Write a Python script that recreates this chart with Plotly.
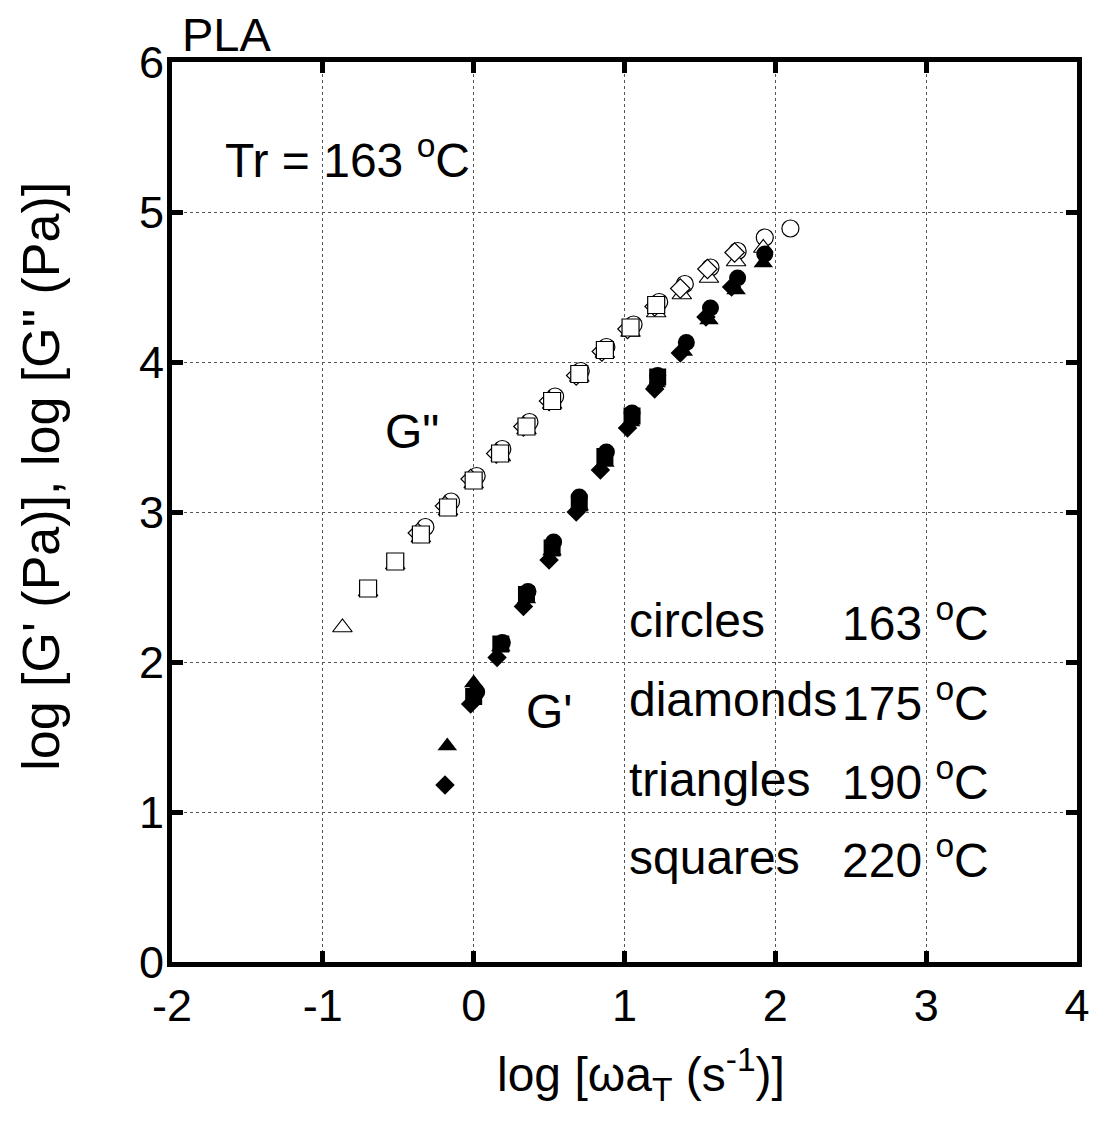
import plotly.graph_objects as go

# ---- data: G'' (open symbols) ----
gpp_circ_x = [-0.32, -0.15, 0.02, 0.19, 0.37, 0.54, 0.71, 0.88, 1.06, 1.23, 1.40, 1.57, 1.75, 1.93, 2.10]
gpp_circ_y = [2.90, 3.07, 3.24, 3.42, 3.60, 3.77, 3.94, 4.10, 4.25, 4.40, 4.52, 4.63, 4.74, 4.83, 4.89]

gpp_diam_x = [-0.37, -0.19, -0.02, 0.15, 0.33, 0.50, 0.68, 0.85, 1.02, 1.20, 1.37, 1.55, 1.73]
gpp_diam_y = [2.86, 3.04, 3.22, 3.39, 3.57, 3.74, 3.91, 4.07, 4.22, 4.37, 4.49, 4.62, 4.73]

gpp_tri_x = [-0.87, -0.70, -0.52, -0.35, -0.17, 0.00, 0.18, 0.35, 0.52, 0.70, 0.87, 1.04, 1.21, 1.38, 1.56, 1.74, 1.92]
gpp_tri_y = [2.23, 2.47, 2.65, 2.83, 3.01, 3.19, 3.37, 3.55, 3.72, 3.90, 4.06, 4.20, 4.33, 4.45, 4.56, 4.67, 4.76]

gpp_sq_x = [-0.70, -0.52, -0.35, -0.17, 0.00, 0.175, 0.35, 0.52, 0.70, 0.87, 1.04, 1.21]
gpp_sq_y = [2.49, 2.67, 2.85, 3.03, 3.21, 3.39, 3.57, 3.74, 3.92, 4.08, 4.23, 4.38]

# ---- data: G' (filled symbols) ----
gp_circ_x = [0.02, 0.19, 0.36, 0.53, 0.70, 0.88, 1.05, 1.22, 1.41, 1.57, 1.75, 1.93]
gp_circ_y = [1.80, 2.13, 2.47, 2.80, 3.10, 3.40, 3.66, 3.91, 4.13, 4.36, 4.56, 4.72]

gp_diam_x = [-0.19, -0.02, 0.155, 0.33, 0.50, 0.68, 0.84, 1.02, 1.20, 1.37, 1.54, 1.71]
gp_diam_y = [1.18, 1.72, 2.03, 2.37, 2.68, 3.00, 3.28, 3.56, 3.82, 4.06, 4.30, 4.50]

gp_tri_x = [-0.175, 0.00, 0.18, 0.35, 0.52, 0.70, 0.87, 1.04, 1.21, 1.39, 1.56, 1.74, 1.92]
gp_tri_y = [1.44, 1.86, 2.10, 2.42, 2.74, 3.04, 3.33, 3.60, 3.86, 4.07, 4.28, 4.48, 4.66]

gp_sq_x = [0.00, 0.18, 0.35, 0.52, 0.70, 0.87, 1.05, 1.22]
gp_sq_y = [1.77, 2.12, 2.45, 2.76, 3.06, 3.37, 3.64, 3.90]

x_ticks = [-2, -1, 0, 1, 2, 3, 4]
y_ticks = [0, 1, 2, 3, 4, 5, 6]

legend_names = ["circles", "diamonds", "triangles", "squares"]
legend_temps = ["163", "175", "190", "220"]

FONT = "Liberation Sans, Arial, sans-serif"

fig = go.Figure()

def add(x, y, symbol, size, filled):
    fig.add_trace(go.Scatter(
        x=x, y=y, mode="markers", showlegend=False,
        marker=dict(symbol=symbol, size=size,
                    color="black" if filled else "white",
                    line=dict(color="black", width=0 if filled else 1.2)),
    ))

# open (G'') — circles bottom, then triangles, diamonds, squares on top
add(gpp_circ_x, gpp_circ_y, "circle", 17, False)
add(gpp_tri_x, gpp_tri_y, "triangle-up", 17, False)
add(gpp_diam_x, gpp_diam_y, "diamond", 15, False)
add(gpp_sq_x, gpp_sq_y, "square", 17, False)
# filled (G')
add(gp_circ_x, gp_circ_y, "circle", 17, True)
add(gp_tri_x, gp_tri_y, "triangle-up", 17, True)
add(gp_diam_x, gp_diam_y, "diamond", 15, True)
add(gp_sq_x, gp_sq_y, "square", 17, True)

axis_common = dict(
    showline=True, linecolor="black", linewidth=5, mirror="all",
    ticks="inside", ticklen=11, tickwidth=5, tickcolor="black",
    showgrid=True, gridcolor="#555555", gridwidth=1, griddash="3px,3px",
    zeroline=False,
    tickfont=dict(family=FONT, size=45, color="black"),
)

fig.update_xaxes(range=[-2, 4], tickvals=x_ticks, ticktext=[str(v) for v in x_ticks], **axis_common)
fig.update_yaxes(range=[0, 6], tickvals=y_ticks, ticktext=[str(v) for v in y_ticks],
                 ticklabelstandoff=-6, **axis_common)

ann = []
def txt(x, y, text, xanchor="center", xref="x", yref="y", size=48, textangle=0):
    ann.append(dict(x=x, y=y, xref=xref, yref=yref, text=text, showarrow=False,
                    xanchor=xanchor, yanchor="middle", textangle=textangle,
                    font=dict(family=FONT, size=size, color="black")))

txt(0.009, 1.03, "PLA", xanchor="left", xref="paper", yref="paper", size=47)
txt(-1.66, 5.37, "Tr = 163 <sup>o</sup>C", xanchor="left")
txt(-0.41, 3.54, "G\"")
txt(0.50, 1.67, "G'")
leg_y = [2.28, 1.75, 1.22, 0.70]
for name, temp, yy in zip(legend_names, legend_temps, leg_y):
    txt(1.015, yy, name, xanchor="left")
    txt(3.43, yy, temp + " <sup>o</sup>C", xanchor="right")

# axis titles
txt(0.518, -0.125, "log [ωa<sub>T</sub> (s<sup>-1</sup>)]", xref="paper", yref="paper")
txt(-0.145, 0.54, "log [G' (Pa)], log [G\" (Pa)]", xref="paper", yref="paper",
    textangle=-90, size=52)

fig.update_layout(
    width=1101, height=1121,
    margin=dict(l=164, r=32, t=54, b=167),
    plot_bgcolor="white", paper_bgcolor="white",
    annotations=ann,
    font=dict(family=FONT, color="black"),
)

fig.write_html("out.html")
